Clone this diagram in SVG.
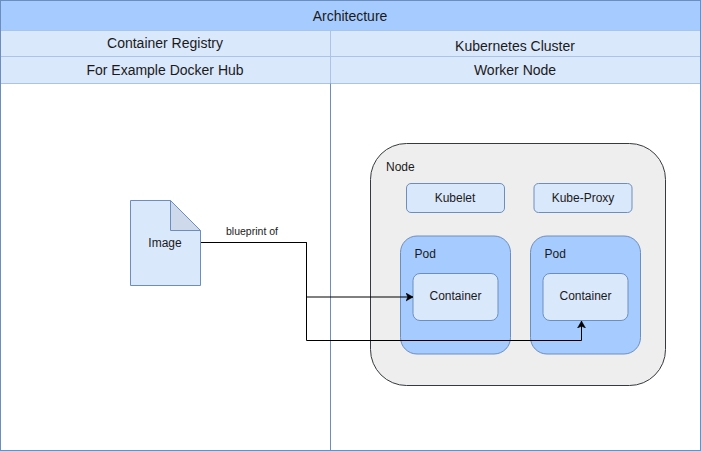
<svg xmlns="http://www.w3.org/2000/svg" width="701" height="451" viewBox="0 0 701 451">
<defs>
<marker id="arrow" markerUnits="userSpaceOnUse" markerWidth="9" markerHeight="9" refX="7" refY="4.5" orient="auto"><path d="M0,0.5 L7,4.5 L0,8.5 L1.8,4.5 Z" fill="#000" stroke="#000" stroke-width="0.5"/></marker>
</defs>
<style>
text{font-family:"Liberation Sans",Arial,sans-serif;fill:#1a1a1a;font-size:12px;text-anchor:middle}
.h{font-size:14px}
.s{fill:#dae8fc;stroke:#6c8ebf}
.p{fill:#a6ccff;stroke:#6c8ebf}
.c{fill:none;stroke:#000;stroke-width:1}
.l{text-anchor:start}
</style>
<rect width="701" height="451" fill="#fff"/>
<g id="table">
<rect x="0.5" y="0.5" width="700" height="450" fill="#fff" stroke="#6c8ebf"/>
<rect x="0.5" y="0.5" width="700" height="30" fill="#a6ccff" stroke="#6c8ebf"/>
<rect x="0.5" y="30.5" width="330" height="26" fill="#dae8fc" stroke="#a9c4e8"/>
<rect x="330.5" y="30.5" width="370" height="26" fill="#dae8fc" stroke="#a9c4e8"/>
<rect x="0.5" y="56.5" width="330" height="27" fill="#dae8fc" stroke="#a9c4e8"/>
<rect x="330.5" y="56.5" width="370" height="27" fill="#dae8fc" stroke="#a9c4e8"/>
<path d="M330.5 83.5V450.5" stroke="#6c8ebf" fill="none"/>
<path d="M0.5 0.5H700.5V450.5H0.5Z" stroke="#6c8ebf" fill="none"/>
<text class="h" x="350" y="21">Architecture</text>
<text class="h" x="165" y="48">Container Registry</text>
<text class="h" x="515" y="51">Kubernetes Cluster</text>
<text class="h" x="165" y="75">For Example Docker Hub</text>
<text class="h" x="515" y="75">Worker Node</text>
</g>
<g id="node">
<rect x="370.5" y="143.5" width="295" height="242" rx="36" fill="#eeeeee" stroke="#36393d"/>
<text class="l" x="386" y="171">Node</text>
</g>
<g id="kubelet"><rect class="s" x="406.5" y="183.5" width="98" height="29" rx="4.5"/><text x="455" y="202">Kubelet</text></g>
<g id="kube-proxy"><rect class="s" x="534" y="183.5" width="98" height="29" rx="4.5"/><text x="583" y="202">Kube-Proxy</text></g>
<g id="pod1"><rect class="p" x="400.5" y="236" width="110" height="118" rx="16.5"/><text class="l" x="414.500" y="258">Pod</text></g>
<g id="pod2"><rect class="p" x="530.500" y="236" width="110" height="118" rx="16.5"/><text class="l" x="544.500" y="258">Pod</text></g>
<g id="container1"><rect class="s" x="413" y="273.500" width="85" height="47" rx="7"/><text x="455.500" y="300">Container</text></g>
<g id="container2"><rect class="s" x="543" y="273.500" width="85" height="47" rx="7"/><text x="585.500" y="300">Container</text></g>
<g id="image">
<path class="s" d="M130.500 200.500H170.500L200.500 230.500V285.500H130.500Z"/>
<path d="M170.500 200.500V230.500H200.500Z" fill="#ced9ec" stroke="#6c8ebf"/>
<text x="165" y="247">Image</text>
</g>
<g id="connectors">
<path class="c" d="M201 242.500H306.500V297H413" marker-end="url(#arrow)"/>
<path class="c" d="M201 242.500H306.500V340.500H581.500V321" marker-end="url(#arrow)"/>
<text x="252" y="235" style="font-size:10.500px">blueprint of</text>
</g>
</svg>
